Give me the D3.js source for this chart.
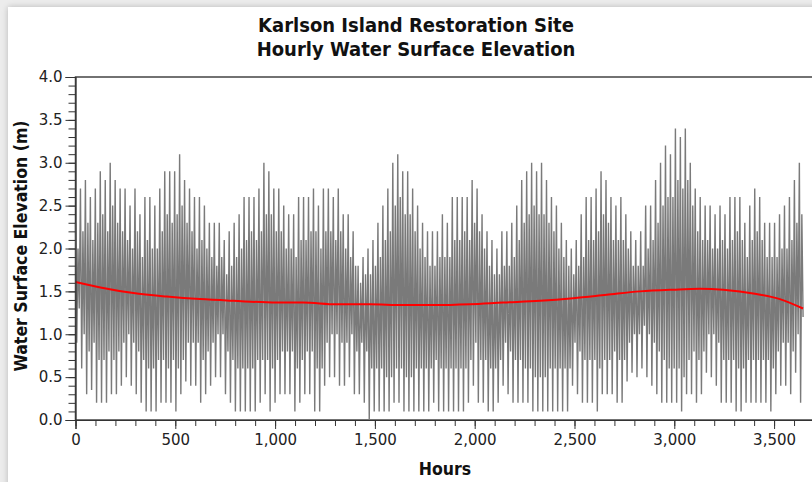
<!DOCTYPE html>
<html>
<head>
<meta charset="utf-8">
<title>Karlson Island</title>
<script src="https://cdn.jsdelivr.net/npm/d3@7"></script>
<style>
  body { margin: 0; background: #ececec; overflow: hidden; }
  #panel { position: absolute; left: 8px; top: 7px; width: 830px; height: 490px;
           background: #fff; box-shadow: 0 0 6px rgba(0,0,0,0.22); }
  #chart { position: absolute; left: 0; top: 0; }
</style>
</head>
<body>
<div id="panel"></div>
<svg id="chart" width="812" height="482"></svg>
<script>
// tidal day ~24.84 h, four turning points a day: higher high, lower low, lower high, higher low
var tidalDay = 24.84;

// higher high water per tidal day (m)
var higherHigh = [2.3,2.7,2.8,2.6,2.7,2.9,2.8,3.0,2.8,2.7,
  2.7,2.5,2.7,2.4,2.6,2.6,2.5,2.7,2.9,2.9,
  2.9,3.1,2.8,2.7,2.6,2.6,2.5,2.3,2.3,2.3,
  2.1,2.2,2.3,2.4,2.6,2.6,2.6,2.7,3.0,2.9,
  2.7,2.7,2.5,2.4,2.4,2.6,2.6,2.6,2.7,2.5,
  2.7,2.7,2.6,2.7,2.4,2.4,2.2,1.8,1.9,2.0,
  2.1,2.3,2.5,2.7,3.0,3.1,2.9,2.9,2.7,2.5,
  2.3,2.2,2.2,2.2,2.4,2.3,2.6,2.6,2.6,2.6,
  2.8,2.7,2.4,2.2,2.1,2.0,2.2,2.2,2.3,2.5,
  2.8,2.9,3.0,2.9,3.0,2.8,2.6,2.5,2.3,2.1,
  2.0,2.1,2.4,2.6,2.6,2.7,2.9,2.8,2.6,2.5,
  2.6,2.4,2.2,2.1,2.2,2.5,2.5,2.8,3.0,3.2,
  3.1,3.4,3.3,3.4,3.0,2.7,2.6,2.5,2.5,2.4,
  2.5,2.4,2.6,2.6,2.6,2.3,2.5,2.7,2.6,2.3,
  2.3,2.3,2.4,2.5,2.6,2.8,3.0];

// lower low water per tidal day (m)
var lowerLow = [0.9,0.6,0.3,0.35,0.2,0.2,0.2,0.3,0.3,0.4,
  0.5,0.4,0.3,0.2,0.1,0.1,0.1,0.2,0.2,0.2,
  0.1,0.3,0.45,0.4,0.4,0.2,0.3,0.4,0.5,0.5,
  0.3,0.2,0.1,0.1,0.1,0.1,0.1,0.2,0.3,0.1,
  0.2,0.3,0.3,0.3,0.1,0.2,0.3,0.3,0.1,0.1,
  0.4,0.5,0.5,0.4,0.4,0.5,0.3,0.3,0.2,0.0,
  0.1,0.1,0.1,0.1,0.2,0.2,0.1,0.1,0.1,0.1,
  0.1,0.1,0.2,0.1,0.1,0.1,0.1,0.1,0.1,0.2,
  0.4,0.2,0.2,0.1,0.1,0.2,0.4,0.3,0.2,0.2,
  0.2,0.2,0.1,0.1,0.1,0.1,0.1,0.1,0.1,0.1,
  0.4,0.3,0.2,0.2,0.2,0.1,0.3,0.3,0.3,0.2,
  0.2,0.45,0.55,0.5,0.6,0.5,0.4,0.3,0.2,0.2,
  0.2,0.2,0.1,0.3,0.3,0.2,0.3,0.55,0.5,0.4,
  0.2,0.2,0.2,0.1,0.1,0.2,0.2,0.2,0.2,0.2,
  0.1,0.3,0.4,0.4,0.3,0.55,0.2];

// lower high water per tidal day (m)
var lowerHigh = [2.0,2.2,2.3,2.1,2.3,2.4,2.2,2.5,2.3,2.2,
  2.1,2.0,2.2,1.9,2.1,2.0,2.0,2.2,2.4,2.3,
  2.4,2.5,2.3,2.2,2.0,2.1,2.0,1.9,1.8,1.9,
  1.7,1.8,1.9,2.0,2.1,2.2,2.1,2.2,2.4,2.4,
  2.2,2.2,2.0,2.0,1.9,2.1,2.1,2.2,2.2,2.0,
  2.2,2.2,2.1,2.2,2.0,1.9,1.8,1.6,1.7,1.7,
  1.8,1.9,2.1,2.2,2.5,2.6,2.4,2.4,2.2,2.0,
  1.9,1.8,1.8,1.9,1.9,1.9,2.1,2.1,2.2,2.1,
  2.3,2.2,2.0,1.8,1.7,1.7,1.8,1.8,1.9,2.1,
  2.3,2.4,2.5,2.4,2.4,2.3,2.2,2.0,1.9,1.8,
  1.7,1.8,1.9,2.1,2.1,2.2,2.4,2.3,2.1,2.1,
  2.1,2.0,1.8,1.8,1.8,2.0,2.1,2.3,2.5,2.6,
  2.6,2.8,2.7,2.8,2.5,2.2,2.1,2.1,2.0,2.0,
  2.1,2.0,2.1,2.2,2.1,1.9,2.1,2.2,2.1,1.9,
  1.9,1.9,2.0,2.0,2.1,2.3,2.4];

// higher low water per tidal day (m)
var higherLow = [1.3,1.0,0.8,0.9,0.7,0.7,0.8,0.7,0.8,0.9,
  1.0,0.9,0.8,0.7,0.6,0.6,0.7,0.7,0.6,0.7,
  0.6,0.7,0.9,0.9,0.9,0.7,0.8,0.9,1.0,1.0,
  0.8,0.7,0.6,0.6,0.6,0.6,0.7,0.7,0.7,0.6,
  0.7,0.8,0.8,0.8,0.6,0.7,0.8,0.8,0.6,0.6,
  0.9,1.0,1.0,0.9,0.9,1.0,0.8,0.9,0.8,0.6,
  0.6,0.6,0.5,0.5,0.6,0.6,0.5,0.5,0.6,0.6,
  0.6,0.6,0.7,0.6,0.6,0.6,0.6,0.6,0.6,0.7,
  0.9,0.7,0.7,0.6,0.6,0.7,0.9,0.8,0.7,0.7,
  0.6,0.6,0.5,0.5,0.5,0.6,0.6,0.6,0.6,0.6,
  0.9,0.8,0.7,0.7,0.7,0.6,0.7,0.7,0.8,0.7,
  0.7,0.9,1.0,1.0,1.1,1.0,0.9,0.8,0.7,0.6,
  0.6,0.6,0.5,0.7,0.8,0.7,0.8,1.0,1.0,0.9,
  0.7,0.7,0.7,0.6,0.6,0.7,0.7,0.7,0.7,0.7,
  0.6,0.8,0.9,0.9,0.8,1.0,1.2];

// smoothed trend (red line)
var trendHours  = [0, 125, 290, 457, 624, 791, 1008, 1140, 1308, 1475, 1642, 1809, 1976, 2143, 2327, 2494, 2661, 2828, 2995, 3128, 3245, 3412, 3529, 3645];
var trendValues = [1.61, 1.545, 1.48, 1.44, 1.41, 1.39, 1.37, 1.37, 1.35, 1.35, 1.34, 1.34, 1.35, 1.37, 1.39, 1.42, 1.46, 1.50, 1.52, 1.53, 1.52, 1.47, 1.41, 1.30];

var xMajor = [0, 500, 1000, 1500, 2000, 2500, 3000, 3500];
var yMajor = [0.0, 0.5, 1.0, 1.5, 2.0, 2.5, 3.0, 3.5, 4.0];

// build the tide series: 4 points per tidal day
var tide = [];
higherHigh.forEach(function(hh, d) {
    var t0 = d * tidalDay;
    tide.push({h: t0, v: hh});
    tide.push({h: t0 + tidalDay / 4, v: lowerLow[d]});
    tide.push({h: t0 + tidalDay / 2, v: lowerHigh[d]});
    tide.push({h: t0 + tidalDay * 3 / 4, v: higherLow[d]});
});

var svg = d3.select("#chart");
var plotLeft = 75.5, plotTop = 77, plotBottom = 420, plotRight = 815;

var x = d3.scaleLinear().domain([0, 3705]).range([plotLeft, plotRight]);
var y = d3.scaleLinear().domain([0, 4]).range([plotBottom, plotTop]);

// titles
svg.append("text")
    .attr("x", 416).attr("y", 32)
    .attr("text-anchor", "middle")
    .style("font-family", "DejaVu Sans Condensed")
    .style("font-weight", "bold").style("font-size", "20px")
    .style("fill", "#111")
    .text("Karlson Island Restoration Site");
svg.append("text")
    .attr("x", 416).attr("y", 56)
    .attr("text-anchor", "middle")
    .style("font-family", "DejaVu Sans Condensed")
    .style("font-weight", "bold").style("font-size", "20px")
    .style("fill", "#111")
    .text("Hourly Water Surface Elevation");

// plot frame
svg.append("rect")
    .attr("x", plotLeft).attr("y", plotTop)
    .attr("width", plotRight - plotLeft).attr("height", plotBottom - plotTop)
    .attr("fill", "#fff")
    .attr("stroke", "#444").attr("stroke-width", 1.5);

// tide line
var line = d3.line()
    .x(function(d) { return x(d.h); })
    .y(function(d) { return y(d.v); });

svg.append("path")
    .datum(tide)
    .attr("fill", "none")
    .attr("stroke", "#7a7a7a")
    .attr("stroke-width", 1.4)
    .attr("d", line);

// trend line
var trend = trendHours.map(function(h, i) { return {h: h, v: trendValues[i]}; });
svg.append("path")
    .datum(trend)
    .attr("fill", "none")
    .attr("stroke", "#ff0000")
    .attr("stroke-width", 2)
    .attr("d", line.curve(d3.curveMonotoneX));

// x axis, minor then major
svg.append("g")
    .attr("transform", "translate(0," + plotBottom + ")")
    .call(d3.axisBottom(x).tickValues(d3.range(0, 3701, 100)).tickSize(6).tickFormat(""))
    .call(function(g) { g.select(".domain").remove(); })
    .selectAll("line").attr("stroke", "#333");

var xAxis = svg.append("g")
    .attr("transform", "translate(0," + plotBottom + ")")
    .call(d3.axisBottom(x).tickValues(xMajor).tickSize(9).tickPadding(5).tickFormat(d3.format(",")));
xAxis.select(".domain").attr("stroke", "#333").attr("stroke-width", 1.2);
xAxis.selectAll("line").attr("stroke", "#333");
xAxis.selectAll("text")
    .style("font-family", "DejaVu Sans").style("font-size", "15px").style("fill", "#222");

// y axis, minor then major
svg.append("g")
    .attr("transform", "translate(" + plotLeft + ",0)")
    .call(d3.axisLeft(y).tickValues(d3.range(0, 41).map(function(i) { return i / 10; })).tickSize(7).tickFormat(""))
    .call(function(g) { g.select(".domain").remove(); })
    .selectAll("line").attr("stroke", "#333");

var yAxis = svg.append("g")
    .attr("transform", "translate(" + plotLeft + ",0)")
    .call(d3.axisLeft(y).tickValues(yMajor).tickSize(10).tickPadding(3).tickFormat(d3.format(".1f")));
yAxis.select(".domain").attr("stroke", "#333").attr("stroke-width", 1.2);
yAxis.selectAll("line").attr("stroke", "#333");
yAxis.selectAll("text")
    .style("font-family", "DejaVu Sans").style("font-size", "15px").style("fill", "#222");

// axis titles
svg.append("text")
    .attr("x", 445).attr("y", 475)
    .attr("text-anchor", "middle")
    .style("font-family", "DejaVu Sans Condensed")
    .style("font-weight", "bold").style("font-size", "17.5px")
    .style("fill", "#111")
    .text("Hours");

svg.append("text")
    .attr("transform", "translate(27,246) rotate(-90)")
    .attr("text-anchor", "middle")
    .style("font-family", "DejaVu Sans Condensed")
    .style("font-weight", "bold").style("font-size", "17.5px")
    .style("fill", "#111")
    .text("Water Surface Elevation (m)");
</script>
</body>
</html>
